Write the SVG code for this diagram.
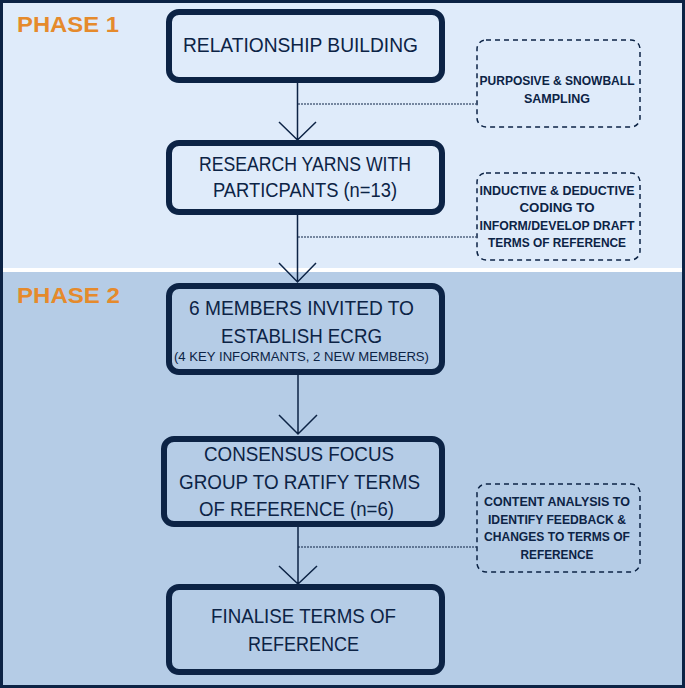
<svg xmlns="http://www.w3.org/2000/svg" width="685" height="688" viewBox="0 0 685 688">
<style>
.box{fill:none;stroke:#0c2345;stroke-width:6}
.dbox{fill:none;stroke:#0c2345;stroke-width:1.5;stroke-dasharray:5 4}
.main{font-family:"Liberation Sans",Arial,sans-serif;font-size:21px;fill:#0c2345;text-anchor:middle}
.sub{font-family:"Liberation Sans",Arial,sans-serif;font-size:13px;fill:#0c2345;text-anchor:middle}
.note{font-family:"Liberation Sans",Arial,sans-serif;font-size:12.5px;font-weight:bold;fill:#0c2345;text-anchor:middle}
.phase{font-family:"Liberation Sans",Arial,sans-serif;font-size:22px;font-weight:bold;fill:#e58a2c}
.line{stroke:#0c2345;stroke-width:1.5;fill:none}
.dline{stroke:#0c2345;stroke-width:1;stroke-dasharray:2 1;fill:none}
</style>
<rect x="0" y="0" width="685" height="268" fill="#dfebfa"/>
<rect x="0" y="268" width="685" height="4" fill="#ffffff"/>
<rect x="0" y="272" width="685" height="416" fill="#b5cce6"/>
<rect x="1.5" y="1.5" width="682" height="685" fill="none" stroke="#0c2345" stroke-width="3"/>
<text class="phase" x="17" y="32" textLength="102" lengthAdjust="spacingAndGlyphs">PHASE 1</text>
<text class="phase" x="17" y="303" textLength="103" lengthAdjust="spacingAndGlyphs">PHASE 2</text>
<g id="connectors">
<path class="line" d="M297.5 83V140M279 122L297.5 140L316 122"/>
<path class="line" d="M297.5 215V282M279 263L297.5 282L316 263"/>
<path class="line" d="M298 375V434M279 415L298 434L317 415"/>
<path class="line" d="M298 527V584M279 566L298 584L317 566"/>
<path class="dline" d="M298 104H476"/>
<path class="dline" d="M298 237H476"/>
<path class="dline" d="M298 547H477"/>
</g>
<g id="n1">
<rect class="box" x="169" y="12" width="273" height="68" rx="10"/>
<text class="main" x="300.5" y="52" textLength="235" lengthAdjust="spacingAndGlyphs">RELATIONSHIP BUILDING</text>
</g>
<g id="n2">
<rect class="box" x="169" y="143" width="273" height="69" rx="10"/>
<text class="main" x="305" y="171" textLength="212" lengthAdjust="spacingAndGlyphs">RESEARCH YARNS WITH</text>
<text class="main" x="305" y="197" textLength="184" lengthAdjust="spacingAndGlyphs">PARTICPANTS (n=13)</text>
</g>
<g id="n3">
<rect class="box" x="169" y="286" width="273" height="86" rx="10"/>
<text class="main" x="301.5" y="315" textLength="225" lengthAdjust="spacingAndGlyphs">6 MEMBERS INVITED TO</text>
<text class="main" x="301.5" y="343" textLength="161" lengthAdjust="spacingAndGlyphs">ESTABLISH ECRG</text>
<text class="sub" x="301.5" y="361" textLength="255" lengthAdjust="spacingAndGlyphs">(4 KEY INFORMANTS, 2 NEW MEMBERS)</text>
</g>
<g id="n4">
<rect class="box" x="164" y="439" width="278" height="85" rx="10"/>
<text class="main" x="299" y="461" textLength="190" lengthAdjust="spacingAndGlyphs">CONSENSUS FOCUS</text>
<text class="main" x="299.5" y="489" textLength="241" lengthAdjust="spacingAndGlyphs">GROUP TO RATIFY TERMS</text>
<text class="main" x="296.5" y="516" textLength="195" lengthAdjust="spacingAndGlyphs">OF REFERENCE (n=6)</text>
</g>
<g id="n5">
<rect class="box" x="169" y="587" width="273" height="85" rx="10"/>
<text class="main" x="303.5" y="623" textLength="185" lengthAdjust="spacingAndGlyphs">FINALISE TERMS OF</text>
<text class="main" x="303.5" y="651" textLength="111" lengthAdjust="spacingAndGlyphs">REFERENCE</text>
</g>
<g id="note1">
<rect class="dbox" x="477" y="40" width="163" height="87" rx="9"/>
<text class="note" x="557" y="85" textLength="155" lengthAdjust="spacingAndGlyphs">PURPOSIVE &amp; SNOWBALL</text>
<text class="note" x="557" y="103" textLength="66" lengthAdjust="spacingAndGlyphs">SAMPLING</text>
</g>
<g id="note2">
<rect class="dbox" x="477" y="173" width="163" height="87" rx="9"/>
<text class="note" x="557" y="195" textLength="155" lengthAdjust="spacingAndGlyphs">INDUCTIVE &amp; DEDUCTIVE</text>
<text class="note" x="557" y="212" textLength="75" lengthAdjust="spacingAndGlyphs">CODING TO</text>
<text class="note" x="557" y="230" textLength="155" lengthAdjust="spacingAndGlyphs">INFORM/DEVELOP DRAFT</text>
<text class="note" x="557" y="247" textLength="138" lengthAdjust="spacingAndGlyphs">TERMS OF REFERENCE</text>
</g>
<g id="note3">
<rect class="dbox" x="477" y="484" width="163" height="88" rx="9"/>
<text class="note" x="557" y="506" textLength="146" lengthAdjust="spacingAndGlyphs">CONTENT ANALYSIS TO</text>
<text class="note" x="557" y="524" textLength="138" lengthAdjust="spacingAndGlyphs">IDENTIFY FEEDBACK &amp;</text>
<text class="note" x="557" y="541" textLength="146" lengthAdjust="spacingAndGlyphs">CHANGES TO TERMS OF</text>
<text class="note" x="557" y="559" textLength="73" lengthAdjust="spacingAndGlyphs">REFERENCE</text>
</g>
</svg>
